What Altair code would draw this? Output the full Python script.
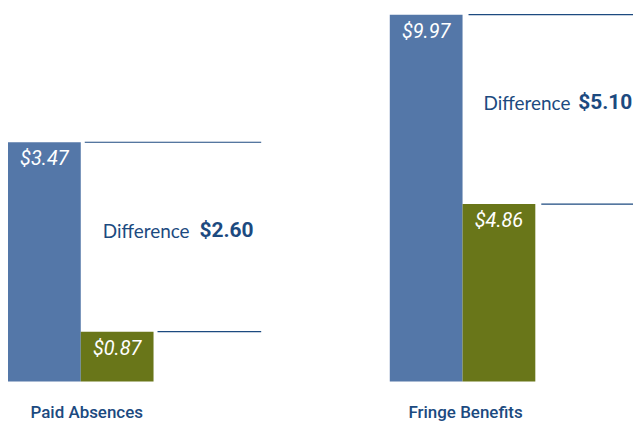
import altair as alt
import pandas as pd

categories = ["Paid Absences", "Fringe Benefits"]
series = ["Union", "Nonunion"]
union_values = [3.47, 9.97]
nonunion_values = [0.87, 4.86]
union_labels = ["$3.47", "$9.97"]
nonunion_labels = ["$0.87", "$4.86"]
diff_labels = ["$2.60", "$5.10"]

BLUE = "#5477a8"
GREEN = "#697619"
NAVY = "#1c4a80"
NARROW = "Roboto"
H = 368


def panel(i, y_domain, width, word_x, amount_x, title_x, gap):
    bars = pd.DataFrame({
        "series": series,
        "value": [union_values[i], nonunion_values[i]],
        "label": [union_labels[i], nonunion_labels[i]],
        "base": [y_domain[0], y_domain[0]],
    })
    diff = pd.DataFrame({
        "hi": [union_values[i]],
        "lo": [nonunion_values[i]],
        "word": ["Difference"],
        "amount": [diff_labels[i]],
        "category": [categories[i]],
    })
    xscale = alt.Scale(range=[0, 146], paddingInner=0, paddingOuter=0)
    yscale = alt.Scale(domain=y_domain, zero=False, nice=False)
    y = alt.Y("value:Q", scale=yscale, axis=None)
    base = alt.Chart(bars)
    b = base.mark_bar().encode(
        x=alt.X("series:N", sort=series, scale=xscale, axis=None),
        y=y,
        y2=alt.Y2("base:Q"),
        color=alt.Color("series:N", scale=alt.Scale(domain=series, range=[BLUE, GREEN]), legend=None),
    )
    rules = base.mark_rule(color=NAVY, strokeWidth=1.2, xOffset=gap).encode(
        x=alt.X("series:N", sort=series, scale=xscale, axis=None, bandPosition=1),
        x2=alt.value(width),
        y=y,
    )
    labels = base.mark_text(
        font=NARROW, fontStyle="italic", fontSize=20, color="white", baseline="top", dy=7
    ).encode(
        x=alt.X("series:N", sort=series, scale=xscale, axis=None, bandPosition=0.5),
        y=y,
        text="label:N",
    )
    dbase = alt.Chart(diff).transform_calculate(mid="(datum.hi + datum.lo) / 2")
    word = dbase.mark_text(
        align="left", baseline="middle", font="Lato", fontSize=19, color=NAVY, dy=-5
    ).encode(x=alt.value(word_x), y=alt.Y("mid:Q", scale=yscale, axis=None), text="word:N")
    amount = dbase.mark_text(
        align="left", baseline="middle", font=NARROW, fontWeight="bold", fontSize=21, color=NAVY, dy=-6
    ).encode(x=alt.value(amount_x), y=alt.Y("mid:Q", scale=yscale, axis=None), text="amount:N")
    title = dbase.mark_text(
        align="center", baseline="middle", font=NARROW, fontWeight=500, fontSize=17, color=NAVY
    ).encode(x=alt.value(title_x), y=alt.value(H + 32), text="category:N")
    return alt.layer(b, rules, labels, word, amount, title).properties(width=width, height=H)


left = panel(0, [0.186, 5.222], 254, 95, 192, 79, 4)
right = panel(1, [0.073, 9.97], 244, 94, 189, 76, 6)

chart = alt.hconcat(left, right, spacing=128).configure_view(stroke=None).properties(
    padding={"left": 0, "top": 5, "right": 0, "bottom": 0}
)

chart.save("out.html", embed_options={"renderer": "svg", "actions": False})
